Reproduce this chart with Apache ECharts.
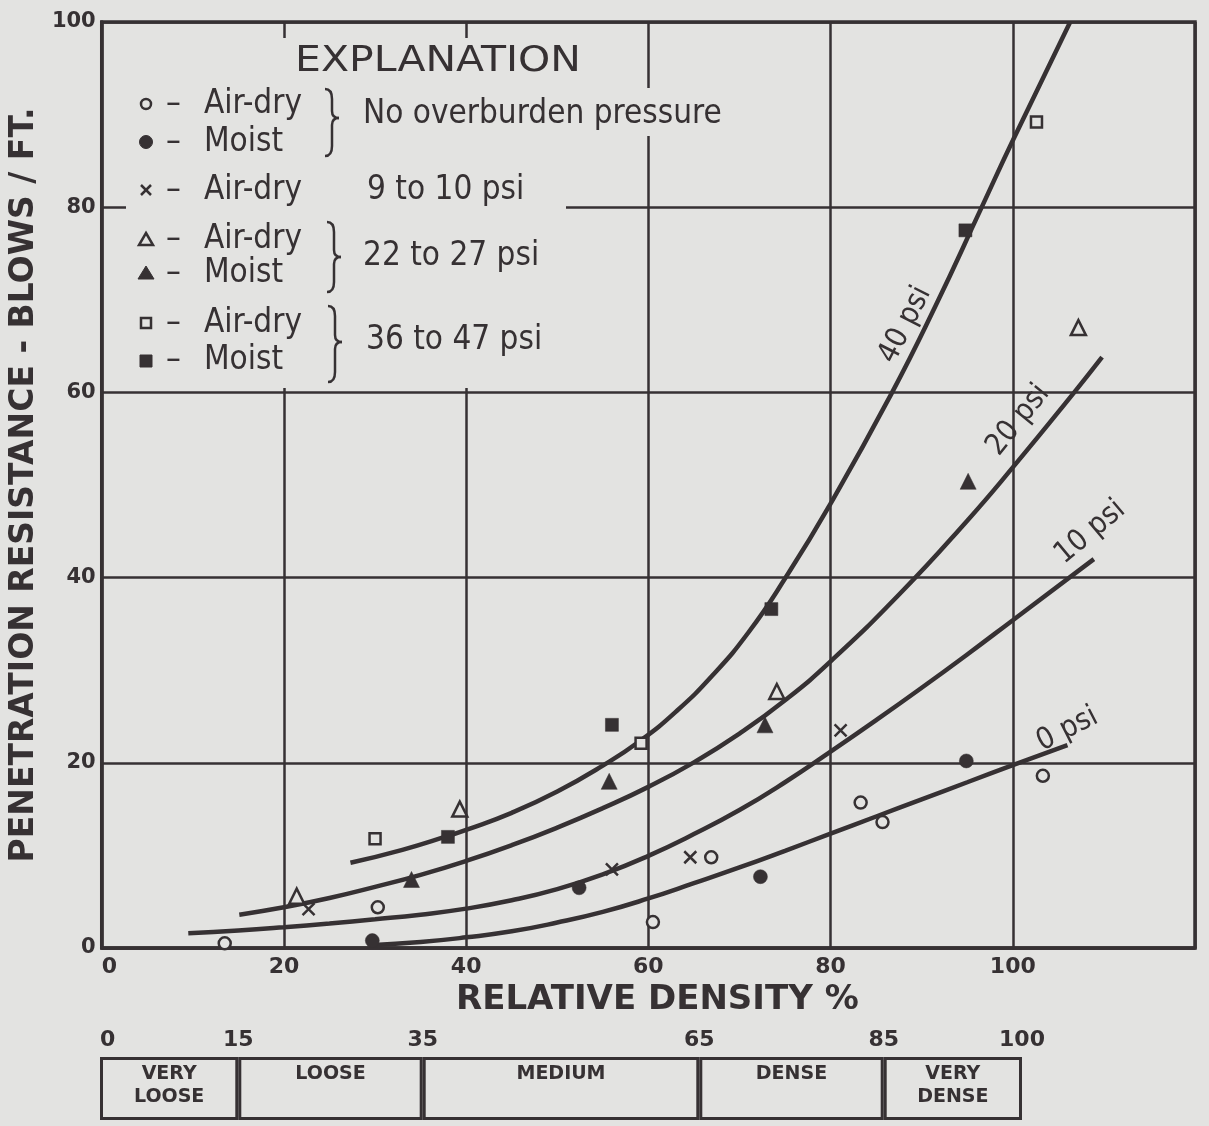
<!DOCTYPE html>
<html>
<head>
<meta charset="utf-8">
<script src="https://cdn.jsdelivr.net/npm/echarts@6/dist/echarts.min.js"></script>
<style>
html,body{margin:0;padding:0;background:#e3e3e1;}
#c{width:1209px;height:1126px;}
</style>
</head>
<body>
<div id="c"></div>
<script>
// ---------------- data ----------------
const xTickValues = [0, 20, 40, 60, 80, 100];
const yTickValues = [0, 20, 40, 60, 80, 100];

// fitted curves (relative density %, blows/ft)
const curve0psi = [[29.5,0.3],[35,0.65],[40,1.15],[45,1.8],[50,2.75],[55,3.9],[60,5.35],[65,7.0],[70,8.7],[75,10.5],[80,12.35],[85,14.2],[90,16.05],[95,17.9],[100,19.75],[106,21.9]];
const curve10psi = [[9.5,1.6],[15,1.9],[20,2.25],[25,2.65],[30,3.1],[35,3.6],[40,4.25],[45,5.15],[50,6.35],[55,7.95],[60,9.95],[65,12.3],[70,14.9],[75,17.9],[80,21.2],[85,24.6],[90,28.1],[95,31.7],[100,35.4],[108.9,42.0]];
const curve20psi = [[15.1,3.6],[20,4.4],[25,5.4],[30,6.6],[35,7.9],[40,9.4],[45,11.1],[50,13.0],[55,15.1],[60,17.4],[65,20.05],[70,23.15],[75,26.75],[80,30.95],[87.6,38.25],[95,46.15],[100,51.9],[106.7,59.95],[109.8,63.8]];
const curve40psi = [[27.3,9.2],[33,10.6],[38,12.1],[40,12.75],[45,14.6],[50,16.9],[55,19.7],[59,22.3],[63,25.5],[67,29.4],[71,34.1],[75,39.9],[80,48.0],[86.7,59.9],[91.5,69.3],[96.4,79.6],[100,87.2],[106.3,100]];
const curveNames = ['0 psi', '10 psi', '20 psi', '40 psi'];

// measured points
const airDryNoOverburden = [[13.5,0.5],[30.3,4.4],[60.5,2.8],[66.9,9.8],[83.3,15.7],[85.7,13.6],[103.3,18.6]];
const moistNoOverburden  = [[29.7,0.8],[52.4,6.5],[72.3,7.7],[94.9,20.2]];
const airDry9to10        = [[22.7,4.2],[56.0,8.5],[64.6,9.8],[81.1,23.5]];
const airDry22to27       = [[21.4,5.6],[39.3,15.0],[74.1,27.7],[107.2,67.0]];
const moist22to27        = [[34.0,7.4],[55.7,18.0],[72.8,24.1],[95.1,50.4]];
const airDry36to47       = [[30.0,11.8],[59.2,22.1],[102.6,89.2]];
const moist36to47        = [[38.0,12.0],[56.0,24.1],[73.5,36.6],[94.8,77.5]];

// density classification
const classBounds = [0, 15, 35, 65, 85, 100];
const classNames = ['VERY\nLOOSE', 'LOOSE', 'MEDIUM', 'DENSE', 'VERY\nDENSE'];

// ---------------- style ----------------
const INK = '#363133';
const PAPER = '#e3e3e1';
const FONT = 'DejaVu Sans';
const COND = '"DejaVu Sans Condensed", "Liberation Sans Narrow", "DejaVu Sans"';

function lineSeries(name, data) {
  return {
    name: name, type: 'line', data: data, showSymbol: false,
    smooth: 0.5, silent: true, z: 3,
    lineStyle: { color: INK, width: 4.5 }
  };
}
function pointSeries(name, data, symbol, size, filled) {
  return {
    name: name, type: 'scatter', data: data, symbol: symbol, symbolSize: size,
    silent: true, z: 5,
    itemStyle: filled
      ? { color: INK, borderColor: INK, borderWidth: 0.5, opacity: 1 }
      : { color: PAPER, borderColor: INK, borderWidth: 2.5, opacity: 1 }
  };
}

// ---------------- legend (graphic) ----------------
function brace(x0, y0, ym, y1) {
  const s = { stroke: INK, lineWidth: 2.5, fill: null };
  const xm = x0 + 7;
  return [
    { type: 'bezierCurve', z: 60, shape: { x1: x0, y1: y0, x2: xm, y2: y0 + 10, cpx1: xm, cpy1: y0 }, style: s },
    { type: 'line', z: 60, shape: { x1: xm, y1: y0 + 10, x2: xm, y2: ym - 7 }, style: s },
    { type: 'bezierCurve', z: 60, shape: { x1: xm, y1: ym - 7, x2: x0 + 14, y2: ym, cpx1: xm, cpy1: ym }, style: s },
    { type: 'bezierCurve', z: 60, shape: { x1: x0 + 14, y1: ym, x2: xm, y2: ym + 7, cpx1: xm, cpy1: ym }, style: s },
    { type: 'line', z: 60, shape: { x1: xm, y1: ym + 7, x2: xm, y2: y1 - 10 }, style: s },
    { type: 'bezierCurve', z: 60, shape: { x1: xm, y1: y1 - 10, x2: x0, y2: y1, cpx1: xm, cpy1: y1 }, style: s }
  ];
}
function ltext(str, x, y, size, extra) {
  return Object.assign({
    type: 'text', z: 60, x: x, y: y,
    style: { text: str, fill: INK, font: size + 'px ' + COND, verticalAlign: 'middle', align: 'left' }
  }, extra || {});
}
const openStyle = { fill: PAPER, stroke: INK, lineWidth: 2.5 };
const fillStyle = { fill: INK, stroke: INK, lineWidth: 1 };
const legendRows = [
  { label: 'Air-dry', y: 104 },
  { label: 'Moist', y: 142 },
  { label: 'Air-dry', y: 190 },
  { label: 'Air-dry', y: 239 },
  { label: 'Moist', y: 273 },
  { label: 'Air-dry', y: 323 },
  { label: 'Moist', y: 360 }
];
const legendElems = [
  // masks hiding the grid behind the explanation
  { type: 'rect', z: 50, shape: { x: 126, y: 38, width: 440, height: 350 }, style: { fill: PAPER } },
  { type: 'rect', z: 50, shape: { x: 566, y: 38, width: 26, height: 46 }, style: { fill: PAPER } },
  { type: 'rect', z: 50, shape: { x: 566, y: 88, width: 176, height: 48 }, style: { fill: PAPER } },
  { type: 'text', z: 60, x: 438, y: 62, scaleX: 1.17, originX: 0, originY: 0,
    style: { text: 'EXPLANATION', fill: INK, font: '35px ' + FONT, align: 'center', verticalAlign: 'middle' } },
  // symbols
  { type: 'circle', z: 60, shape: { cx: 146, cy: 104, r: 5 }, style: openStyle },
  { type: 'circle', z: 60, shape: { cx: 146, cy: 142, r: 6.5 }, style: fillStyle },
  { type: 'line', z: 60, shape: { x1: 141, y1: 185, x2: 151, y2: 195 }, style: { stroke: INK, lineWidth: 2.5 } },
  { type: 'line', z: 60, shape: { x1: 151, y1: 185, x2: 141, y2: 195 }, style: { stroke: INK, lineWidth: 2.5 } },
  { type: 'polygon', z: 60, shape: { points: [[146, 233], [153, 245], [139, 245]] }, style: openStyle },
  { type: 'polygon', z: 60, shape: { points: [[146, 266], [154, 279], [138, 279]] }, style: fillStyle },
  { type: 'rect', z: 60, shape: { x: 141, y: 318, width: 10, height: 10 }, style: openStyle },
  { type: 'rect', z: 60, shape: { x: 140, y: 355, width: 12, height: 12 }, style: fillStyle },
  // group captions
  ltext('No overburden pressure', 363, 114, 33),
  ltext('9 to 10 psi', 367, 190, 33),
  ltext('22 to 27 psi', 363, 256, 33),
  ltext('36 to 47 psi', 366, 340, 33)
].concat(
  legendRows.map(r => ltext('–', 166, r.y, 33)),
  legendRows.map(r => ltext(r.label, 204, r.y, 33)),
  brace(325, 89, 118, 156),
  brace(327, 222, 257, 292),
  brace(328, 306, 342, 382)
);

// ---------------- option ----------------
const option = {
  backgroundColor: PAPER,
  animation: false,
  textStyle: { fontFamily: FONT, color: INK },
  grid: [
    { left: 100, top: 22, width: 1095, height: 926, show: true, borderColor: INK, borderWidth: 3.5, backgroundColor: 'transparent' },
    { left: 100, top: 1057, width: 922, height: 63, show: false }
  ],
  xAxis: [
    {
      gridIndex: 0, type: 'value', min: 0, max: 120, interval: 20,
      name: 'RELATIVE DENSITY %', nameLocation: 'middle', nameGap: 35,
      nameTextStyle: { fontSize: 34, fontWeight: 'bold', color: INK, fontFamily: FONT, padding: [0, 0, 0, 18] },
      axisLine: { show: true, lineStyle: { color: INK, width: 3.5 } },
      axisTick: { show: false },
      axisLabel: { show: true, color: INK, fontSize: 22, fontWeight: 'bold', margin: 8,
        alignMinLabel: 'left', customValues: xTickValues },
      splitLine: { show: true, lineStyle: { color: INK, width: 2.5 } }
    },
    {
      gridIndex: 1, type: 'value', min: 0, max: 100, position: 'top',
      axisLine: { show: false }, axisTick: { show: false }, splitLine: { show: false },
      axisLabel: { show: true, color: INK, fontSize: 22, fontWeight: 'bold', margin: 6,
        customValues: classBounds, alignMinLabel: 'left' }
    }
  ],
  yAxis: [
    {
      gridIndex: 0, type: 'value', min: 0, max: 100, interval: 20,
      name: 'PENETRATION RESISTANCE - BLOWS / FT.', nameLocation: 'middle', nameGap: 58, nameRotate: 90,
      nameTextStyle: { fontSize: 33, fontWeight: 'bold', color: INK, fontFamily: FONT },
      axisLine: { show: true, lineStyle: { color: INK, width: 3.5 } },
      axisTick: { show: false },
      axisLabel: { show: true, color: INK, fontSize: 21, fontWeight: 'bold', margin: 6, customValues: yTickValues },
      splitLine: { show: true, lineStyle: { color: INK, width: 2.5 } }
    },
    {
      gridIndex: 1, type: 'category', data: ['class'], show: false
    }
  ],
  graphic: { elements: legendElems },
  series: [
    lineSeries(curveNames[0], curve0psi),
    lineSeries(curveNames[1], curve10psi),
    lineSeries(curveNames[2], curve20psi),
    lineSeries(curveNames[3], curve40psi),
    pointSeries('Air-dry, no overburden', airDryNoOverburden, 'circle', 12, false),
    pointSeries('Moist, no overburden', moistNoOverburden, 'circle', 14, true),
    pointSeries('Air-dry, 9 to 10 psi', airDry9to10, 'path://M0,0L10,10M10,0L0,10', 12, false),
    pointSeries('Air-dry, 22 to 27 psi', airDry22to27, 'triangle', 15, false),
    pointSeries('Moist, 22 to 27 psi', moist22to27, 'triangle', 16, true),
    pointSeries('Air-dry, 36 to 47 psi', airDry36to47, 'rect', 11, false),
    pointSeries('Moist, 36 to 47 psi', moist36to47, 'rect', 13, true),
    {
      name: 'curve labels', type: 'scatter', symbolSize: 0, silent: true, z: 6,
      itemStyle: { color: INK, opacity: 1 },
      label: { show: true, position: 'inside', color: INK, fontSize: 30, fontFamily: COND,
        textBorderWidth: 0, opacity: 1 },
      data: [
        { value: [106.0, 23.6], label: { formatter: curveNames[0], rotate: 27 } },
        { value: [108.5, 44.9], label: { formatter: curveNames[1], rotate: 40 } },
        { value: [100.6, 57.0], label: { formatter: curveNames[2], rotate: 51 } },
        { value: [88.2, 67.3], label: { formatter: curveNames[3], rotate: 63 } }
      ]
    }
  ].concat(classNames.map((n, i) => ({
    name: n.replace('\n', ' '), type: 'bar', xAxisIndex: 1, yAxisIndex: 1, stack: 'class',
    barWidth: '100%', silent: true,
    data: [classBounds[i + 1] - classBounds[i]],
    itemStyle: { color: 'rgba(0,0,0,0)', borderColor: INK, borderWidth: 3 },
    label: { show: true, position: 'insideTop', distance: 6, formatter: n, color: INK,
      fontSize: 19, fontWeight: 'bold', lineHeight: 23, fontFamily: FONT }
  })))
};

const chart = echarts.init(document.getElementById('c'));
chart.setOption(option);
</script>
</body>
</html>
